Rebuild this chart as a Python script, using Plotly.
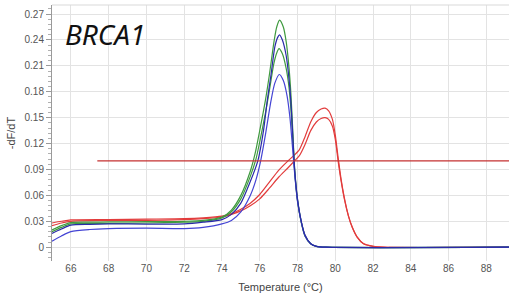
import plotly.graph_objects as go

# Temperatures (°C) and -dF/dT values
t_g1 = [65, 65.5, 66, 67, 68, 70, 72, 73, 74, 74.5, 75, 75.5, 75.75, 76, 76.3, 76.5, 76.77, 76.9, 77.05, 77.25, 77.4, 77.55, 77.65, 77.75, 77.85, 78.0, 78.2, 78.4, 78.7, 79.0, 79.5, 89.2]
v_g1 = [0.020, 0.025, 0.0285, 0.029, 0.0292, 0.0295, 0.030, 0.031, 0.035, 0.043, 0.060, 0.088, 0.108, 0.135, 0.170, 0.198, 0.240, 0.255, 0.263, 0.255, 0.238, 0.208, 0.178, 0.135, 0.090, 0.055, 0.029, 0.013, 0.004, 0.001, 0.0, 0.0]

t_g2 = [65, 65.5, 66, 68, 70, 72, 73, 74, 74.5, 75, 75.5, 75.8, 76, 76.3, 76.5, 76.75, 76.9, 77.02, 77.2, 77.4, 77.55, 77.65, 77.75, 77.85, 78.0, 78.2, 78.4, 78.7, 79.0, 79.5, 89.2]
v_g2 = [0.018, 0.023, 0.027, 0.0275, 0.028, 0.029, 0.030, 0.034, 0.041, 0.056, 0.082, 0.102, 0.122, 0.155, 0.180, 0.213, 0.225, 0.230, 0.224, 0.207, 0.185, 0.160, 0.125, 0.088, 0.054, 0.029, 0.013, 0.004, 0.001, 0.0, 0.0]

t_b1 = [65, 65.5, 66, 67, 68, 70, 72, 73, 74, 74.5, 75, 75.5, 75.9, 76.2, 76.4, 76.6, 76.8, 76.95, 77.05, 77.2, 77.4, 77.55, 77.65, 77.75, 77.85, 78.0, 78.2, 78.4, 78.7, 79.0, 79.5, 89.2]
v_b1 = [0.016, 0.021, 0.0255, 0.0265, 0.027, 0.0268, 0.027, 0.029, 0.032, 0.038, 0.051, 0.076, 0.100, 0.135, 0.170, 0.200, 0.232, 0.243, 0.246, 0.240, 0.222, 0.195, 0.168, 0.130, 0.090, 0.056, 0.030, 0.014, 0.004, 0.001, 0.0, 0.0]

t_b2 = [65, 65.5, 66, 67, 68, 70, 72, 73, 74, 74.5, 75, 75.5, 75.8, 76.05, 76.3, 76.6, 76.8, 77.04, 77.25, 77.45, 77.6, 77.72, 77.85, 78.0, 78.2, 78.4, 78.7, 79.0, 79.5, 89.2]
v_b2 = [0.007, 0.013, 0.018, 0.0205, 0.0215, 0.022, 0.0215, 0.023, 0.027, 0.031, 0.041, 0.060, 0.078, 0.100, 0.130, 0.170, 0.190, 0.200, 0.193, 0.175, 0.150, 0.120, 0.085, 0.053, 0.029, 0.013, 0.004, 0.001, 0.0, 0.0]

t_r = [65, 65.5, 66, 68, 70, 72, 73, 74, 74.5, 75, 75.5, 76, 76.5, 77, 77.5, 77.8, 78.1, 78.4, 78.7, 79.0, 79.25, 79.46, 79.65, 79.85, 80.0, 80.15, 80.3, 80.5, 80.7, 80.9, 81.15, 81.5, 82.0, 82.5, 89.2]
v_r1 = [0.028, 0.030, 0.0316, 0.032, 0.0325, 0.033, 0.034, 0.036, 0.039, 0.044, 0.051, 0.061, 0.075, 0.089, 0.100, 0.106, 0.113, 0.128, 0.145, 0.156, 0.160, 0.161, 0.158, 0.148, 0.130, 0.104, 0.080, 0.055, 0.036, 0.023, 0.012, 0.004, 0.001, 0.0, 0.0]
v_r2 = [0.025, 0.028, 0.030, 0.031, 0.031, 0.032, 0.033, 0.035, 0.038, 0.042, 0.048, 0.056, 0.068, 0.081, 0.092, 0.099, 0.106, 0.119, 0.135, 0.145, 0.149, 0.150, 0.148, 0.140, 0.125, 0.100, 0.078, 0.054, 0.036, 0.023, 0.012, 0.004, 0.001, 0.0, 0.0]

threshold = 0.1
threshold_t = [67.4, 89.2]

x_ticks = [66, 68, 70, 72, 74, 76, 78, 80, 82, 84, 86, 88]
y_ticks = [0, 0.03, 0.06, 0.09, 0.12, 0.15, 0.18, 0.21, 0.24, 0.27]

RED = "#e23c3c"
GREEN = "#3f9a3f"
BLUE1 = "#2a2aa8"
BLUE2 = "#4444d4"

fig = go.Figure()
line_kw = dict(shape="spline", smoothing=0.7, width=1.2)
for t, v, c in [(t_r, v_r1, RED), (t_r, v_r2, RED),
                (t_g1, v_g1, GREEN), (t_g2, v_g2, GREEN),
                (t_b2, v_b2, BLUE2), (t_b1, v_b1, BLUE1)]:
    fig.add_trace(go.Scatter(x=t, y=v, mode="lines", line=dict(color=c, **line_kw),
                             hoverinfo="skip", showlegend=False))

fig.add_trace(go.Scatter(x=threshold_t, y=[threshold, threshold], mode="lines",
                         line=dict(color="#c43030", width=1.2), showlegend=False))

fig.add_shape(type="line", xref="paper", yref="paper", x0=0, x1=1, y0=1, y1=1,
              line=dict(color="#d9d9d9", width=1))

fig.add_annotation(text="BRCA1", xref="paper", yref="paper", x=0.025, y=0.97,
                   xanchor="left", yanchor="top", showarrow=False,
                   font=dict(family="Noto Sans", size=28, color="#111111", style="italic"))

fig.update_layout(
    width=509, height=302,
    margin=dict(l=52, r=0, t=5, b=41, autoexpand=False),
    paper_bgcolor="white", plot_bgcolor="white",
    font=dict(family="Liberation Sans, Arial, sans-serif", size=10, color="#555555"),
)
fig.update_xaxes(range=[65, 89.2], tickvals=x_ticks, showgrid=True, gridcolor="#e3e3e3",
                 gridwidth=1, zeroline=False, showline=False, ticks="", automargin=False,
                 title=dict(text="Temperature (°C)", font=dict(size=11, color="#444444"), standoff=10),
                 tickfont=dict(size=10, color="#555555"))
fig.update_yaxes(range=[-0.016, 0.2805], tickvals=y_ticks, ticktext=["0"] + [f"{v:.2f}" for v in y_ticks[1:]],
                 showgrid=True, gridcolor="#e3e3e3", gridwidth=1, zeroline=False,
                 showline=True, linecolor="#9a9a9a", linewidth=1, automargin=False,
                 ticks="outside", ticklen=5, tickcolor="#9a9a9a",
                 minor=dict(dtick=0.006, tick0=0, ticks="outside", ticklen=3, tickcolor="#b0b0b0", showgrid=False),
                 title=dict(text="-dF/dT", font=dict(size=11, color="#444444"), standoff=6),
                 tickfont=dict(size=10, color="#555555"))

fig.write_html("out.html", config={"displayModeBar": False},
               post_script="document.body.style.margin='0';")
